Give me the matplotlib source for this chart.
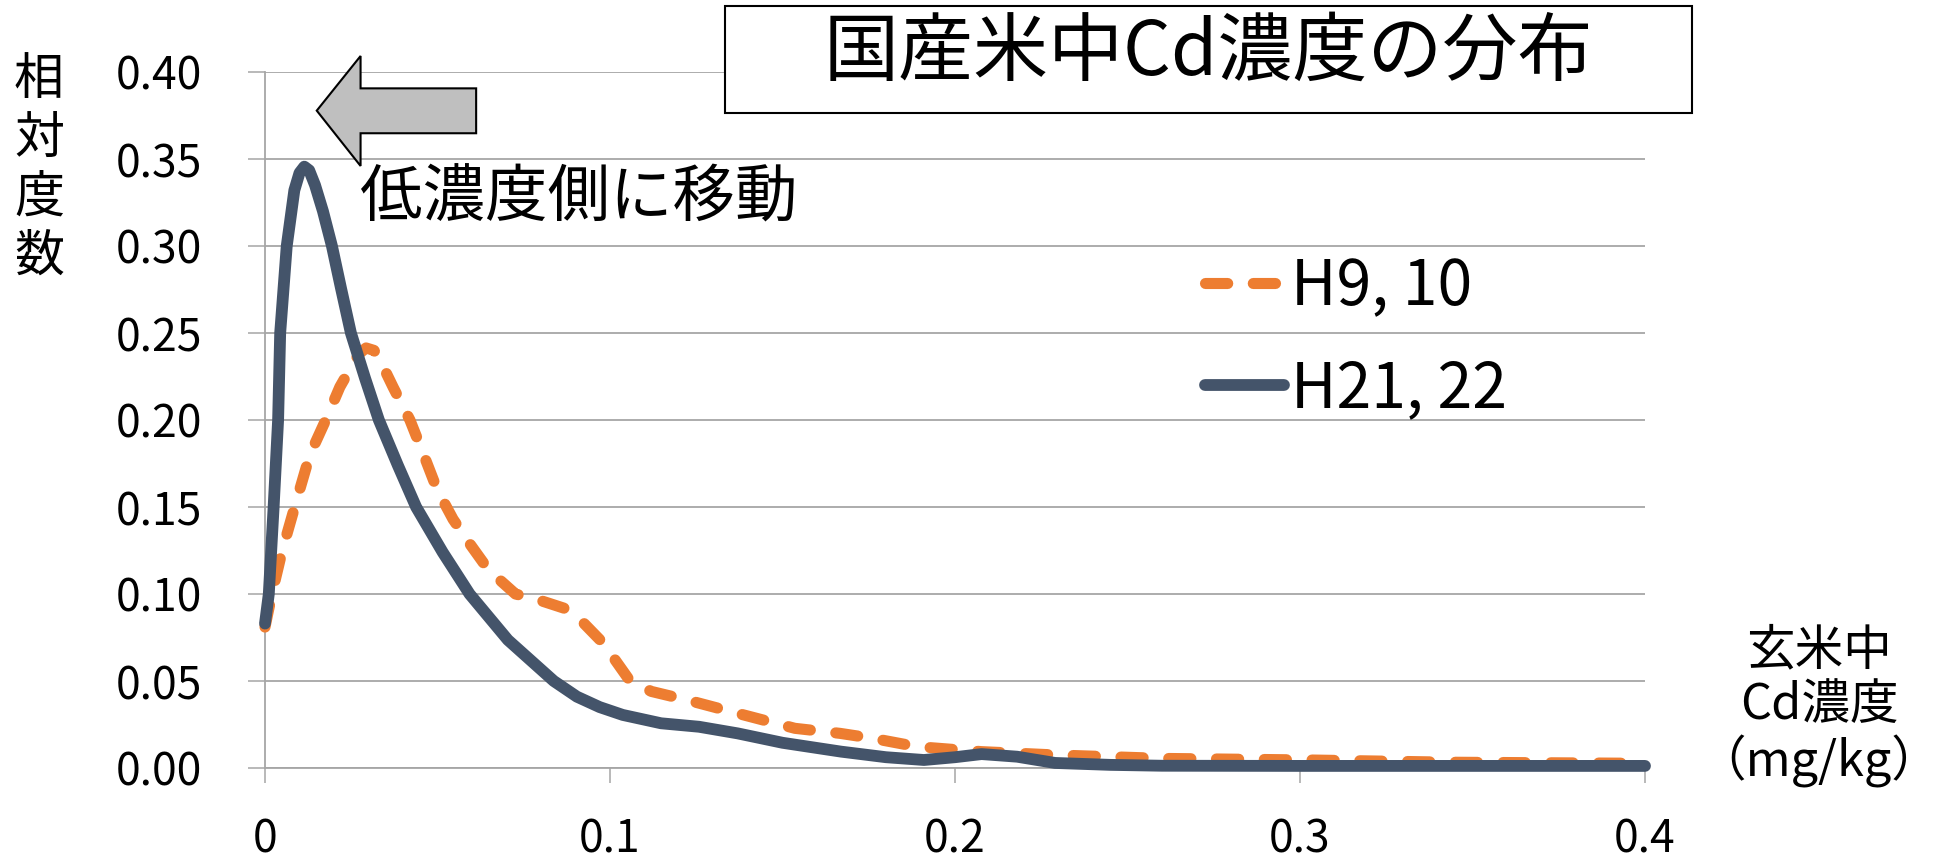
import matplotlib
matplotlib.use("Agg")
import matplotlib.pyplot as plt
from matplotlib.patches import Polygon, Rectangle
import numpy as np

plt.rcParams['font.family'] = ['Noto Sans CJK JP', 'DejaVu Sans']

# H9, 10 (orange, dashed)
x_h9 = [0.000, 0.0020, 0.0050, 0.0086, 0.0130, 0.0176, 0.0217, 0.0250, 0.0272, 0.0293,
        0.0316, 0.0338, 0.0371, 0.0420, 0.0460, 0.0499, 0.0545, 0.0593, 0.0648, 0.0726,
        0.0793, 0.0869, 0.0925, 0.0981, 0.1058, 0.1120, 0.1225, 0.1370, 0.1536, 0.1667,
        0.1760, 0.1889, 0.2077, 0.2290, 0.2604, 0.3028, 0.3450, 0.4000]
y_h9 = [0.081, 0.100, 0.125, 0.150, 0.180, 0.200, 0.219, 0.2305, 0.2380, 0.2414,
        0.2400, 0.2325, 0.219, 0.200, 0.1800, 0.160, 0.1430, 0.129, 0.1138, 0.100,
        0.0966, 0.0917, 0.083, 0.0716, 0.050, 0.044, 0.039, 0.0314, 0.0228, 0.0199,
        0.0171, 0.0123, 0.0094, 0.0075, 0.0055, 0.0046, 0.0033, 0.0027]

# H21, 22 (dark slate, solid)
x_h21 = [0.000, 0.0011, 0.0025, 0.0038, 0.0044, 0.0063, 0.0085, 0.0100, 0.0114, 0.0128,
         0.0145, 0.0168, 0.0194, 0.0220, 0.0249, 0.0290, 0.0330, 0.0385, 0.0438, 0.0515,
         0.0593, 0.0704, 0.0837, 0.0904, 0.0970, 0.1037, 0.1148, 0.1258, 0.1370, 0.1500,
         0.1670, 0.1800, 0.1910, 0.2000, 0.2077, 0.2180, 0.2290, 0.2450, 0.2600, 0.3000,
         0.3500, 0.4000]
y_h21 = [0.083, 0.100, 0.150, 0.200, 0.250, 0.300, 0.332, 0.342, 0.3456, 0.3435,
         0.335, 0.320, 0.300, 0.276, 0.250, 0.224, 0.200, 0.174, 0.150, 0.124,
         0.100, 0.0736, 0.050, 0.041, 0.0350, 0.0305, 0.0257, 0.0237, 0.0199, 0.0145,
         0.0094, 0.0062, 0.0046, 0.0062, 0.0080, 0.0065, 0.0029, 0.0018, 0.0013, 0.0012,
         0.0012, 0.0012]

labels = ['H9, 10', 'H21, 22']
yticks = [0.00, 0.05, 0.10, 0.15, 0.20, 0.25, 0.30, 0.35, 0.40]
xticks = [0, 0.1, 0.2, 0.3, 0.4]
xticklabels = ['0', '0.1', '0.2', '0.3', '0.4']

W, H = 1943, 859
fig = plt.figure(figsize=(W / 100, H / 100), dpi=100)
ax = fig.add_axes([265 / W, 1 - 768 / H, 1380 / W, 696 / H])

grid_col = '#A6A6A6'
ax.plot(x_h9, y_h9, color='#ED7D31', lw=8, dashes=(2.0, 2.3),
        dash_capstyle='round', dash_joinstyle='round', clip_on=False, label=labels[0], zorder=3)
ax.plot(x_h21, y_h21, color='#44546A', lw=8.5, solid_capstyle='round',
        solid_joinstyle='round', clip_on=False, label=labels[1], zorder=4)

ax.set_xlim(0, 0.4)
ax.set_ylim(0, 0.4)
ax.set_yticks(yticks)
ax.set_yticklabels([f'{v:.2f}' for v in yticks])
ax.set_xticks(xticks)
ax.set_xticklabels(xticklabels)
ax.yaxis.grid(True, color=grid_col, lw=1.3)
ax.set_axisbelow(True)
for s in ['top', 'right']:
    ax.spines[s].set_visible(False)
for s in ['left', 'bottom']:
    ax.spines[s].set_color(grid_col)
    ax.spines[s].set_linewidth(1.3)
ax.tick_params(axis='y', direction='out', length=12, width=1.1, color=grid_col,
               labelsize=32, pad=33)
ax.tick_params(axis='x', direction='out', length=11, width=1.1, color=grid_col,
               labelsize=32, pad=24)

leg = ax.legend(loc='center left', bbox_to_anchor=(1205 / W, 1 - 338 / H),
                bbox_transform=fig.transFigure, frameon=False, fontsize=45,
                handlelength=1.26, handletextpad=0.11, labelspacing=0.6,
                borderpad=0, borderaxespad=0)

# left-pointing arrow annotation
arrow = Polygon([[0.0150, 0.3778], [0.0277, 0.4092], [0.0277, 0.3906], [0.0612, 0.3906],
                 [0.0612, 0.3648], [0.0277, 0.3648], [0.0277, 0.346]],
                closed=True, fc='#BFBFBF', ec='black', lw=1.5, clip_on=False, zorder=5)
ax.add_patch(arrow)
fig.text(360 / W, 1 - 199 / H, '低濃度側に移動', ha='left', va='center', fontsize=45)

# title box
fig.patches.append(Rectangle((725 / W, 1 - 113 / H), 967 / W, 107 / H,
                             transform=fig.transFigure, fc='white', ec='black', lw=1.5))
fig.text(1208 / W, 1 - 53 / H, '国産米中Cd濃度の分布', ha='center', va='center', fontsize=54)

# axis labels
fig.text(39 / W, 1 - 168 / H, '相\n対\n度\n数', ha='center', va='center',
         fontsize=36, linespacing=1.17)
fig.text(1819 / W, 1 - 707 / H, '玄米中\nCd濃度\n（mg/kg）', ha='center', va='center',
         fontsize=35, linespacing=1.13)

fig.savefig('out.png', dpi=100)
